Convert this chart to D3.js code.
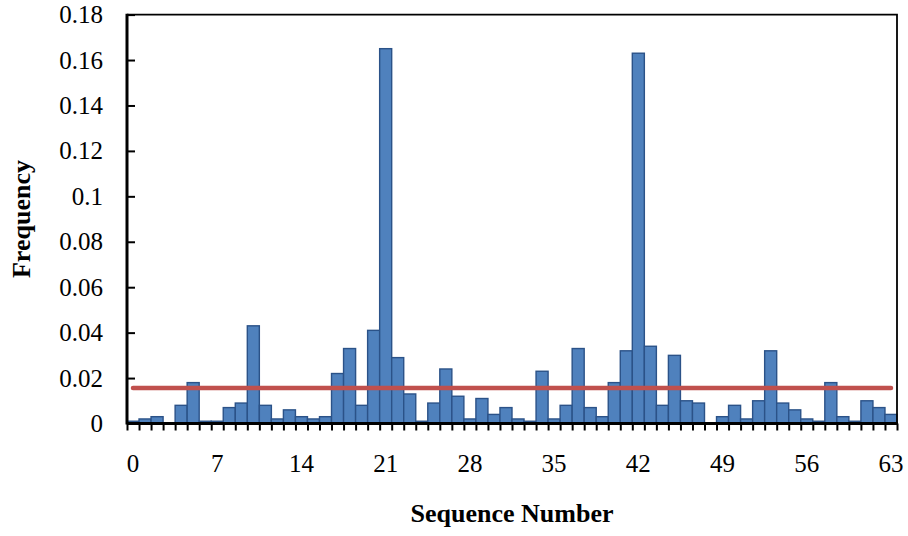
<!DOCTYPE html>
<html>
<head>
<meta charset="utf-8">
<script src="https://cdnjs.cloudflare.com/ajax/libs/d3/7.8.5/d3.min.js"></script>
<style>
body { margin: 0; background: #fff; }
svg text { font-family: "Liberation Serif", "Times New Roman", serif; fill: #000; }
</style>
</head>
<body>
<svg id="chart" width="908" height="536"></svg>
<script>
// sequence numbers 0..63 and their observed frequency
const seqNumbers = [0,1,2,3,4,5,6,7,8,9,10,11,12,13,14,15,16,17,18,19,20,21,22,23,24,25,26,27,28,29,30,31,
                    32,33,34,35,36,37,38,39,40,41,42,43,44,45,46,47,48,49,50,51,52,53,54,55,56,57,58,59,60,61,62,63];
const frequency = [0.001,0.002,0.003,0,0.008,0.018,0.001,0.001,0.007,0.009,0.043,0.008,0.002,0.006,0.003,0.002,
                   0.003,0.022,0.033,0.008,0.041,0.165,0.029,0.013,0.001,0.009,0.024,0.012,0.002,0.011,0.004,0.007,
                   0.002,0.001,0.023,0.002,0.008,0.033,0.007,0.003,0.018,0.032,0.163,0.034,0.008,0.030,0.010,0.009,
                   0,0.003,0.008,0.002,0.010,0.032,0.009,0.006,0.002,0.001,0.018,0.003,0.001,0.010,0.007,0.004];
const uniformLevel = 1 / 64;   // red reference line
const xTickLabels = [0,7,14,21,28,35,42,49,56,63];
const yTicks = [0,0.02,0.04,0.06,0.08,0.1,0.12,0.14,0.16,0.18];

const L = 127, R = 897, T = 14.6, B = 423.5;
const FONT = '"Liberation Serif", "Times New Roman", serif';
const svg = d3.select('#chart');

const x = d3.scaleBand().domain(seqNumbers).range([L, R]).padding(0);
const xEdge = d3.scaleLinear().domain([0, seqNumbers.length]).range([L, R]);
const y = d3.scaleLinear().domain([0, 0.18]).range([B, T]);

// bars
svg.append('g')
  .selectAll('rect')
  .data(seqNumbers)
  .enter()
  .append('rect')
    .attr('x', d => x(d))
    .attr('y', (d, i) => y(frequency[i]))
    .attr('width', x.bandwidth())
    .attr('height', (d, i) => B - y(frequency[i]))
    .attr('fill', '#4F81BD')
    .attr('stroke', '#2B5288')
    .attr('stroke-width', 1.4);

// uniform line
svg.append('line')
  .attr('x1', x(seqNumbers[0]) + x.bandwidth() / 2)
  .attr('x2', x(seqNumbers[seqNumbers.length - 1]) + x.bandwidth() / 2)
  .attr('y1', y(uniformLevel))
  .attr('y2', y(uniformLevel))
  .attr('stroke', '#C0504D')
  .attr('stroke-width', 4.5)
  .attr('stroke-linecap', 'round');

// plot frame (top + right thin)
svg.append('path')
  .attr('d', `M${L},${T}H${R}V${B}`)
  .attr('fill', 'none')
  .attr('stroke', '#000')
  .attr('stroke-width', 1.8);

// x tick marks at category boundaries
const xTickG = svg.append('g')
  .attr('transform', `translate(0,${B})`)
  .call(d3.axisBottom(xEdge).tickValues(d3.range(0, seqNumbers.length + 1)).tickSize(7).tickFormat(''));
xTickG.select('.domain').remove();
xTickG.selectAll('line').attr('stroke', '#000').attr('stroke-width', 2);

// x tick labels at category centres
const xLabG = svg.append('g')
  .attr('transform', `translate(0,${B})`)
  .call(d3.axisBottom(x).tickValues(xTickLabels).tickSize(0).tickPadding(30.5))
  .attr('font-family', FONT)
  .attr('font-size', 25);
xLabG.select('.domain').remove();
xLabG.selectAll('text').style('font-size', '25px').style('font-family', FONT);

// y axis, ticks pointing inward
const yG = svg.append('g')
  .attr('transform', `translate(${L},0)`)
  .call(d3.axisLeft(y).tickValues(yTicks).tickSizeInner(-8).tickSizeOuter(0).tickPadding(24)
        .tickFormat(d => String(+d.toFixed(2))))
  .attr('font-family', FONT)
  .attr('font-size', 25);
yG.select('.domain').remove();
yG.selectAll('line').attr('stroke', '#000').attr('stroke-width', 2);
yG.selectAll('text').style('font-size', '25px').style('font-family', FONT);

// axis lines (thick)
svg.append('line').attr('x1', L).attr('x2', L).attr('y1', T - 0.9).attr('y2', B + 1)
  .attr('stroke', '#000').attr('stroke-width', 3);
svg.append('line').attr('x1', L).attr('x2', R + 1).attr('y1', B).attr('y2', B)
  .attr('stroke', '#000').attr('stroke-width', 3);

// axis titles
svg.append('text')
  .attr('x', (L + R) / 2)
  .attr('y', 522)
  .attr('text-anchor', 'middle')
  .attr('font-weight', 'bold')
  .style('font-size', '26px')
  .text('Sequence Number');

svg.append('text')
  .attr('transform', `translate(30,${(T + B) / 2}) rotate(-90)`)
  .attr('text-anchor', 'middle')
  .attr('font-weight', 'bold')
  .style('font-size', '26px')
  .text('Frequency');
</script>
</body>
</html>
